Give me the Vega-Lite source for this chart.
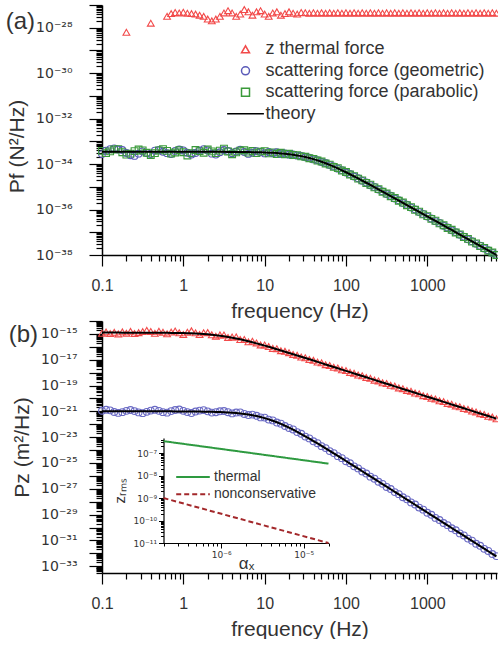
{
"$schema": "https://vega.github.io/schema/vega-lite/v6.json",
"background": "white",
"padding": {"left": 5, "top": -2, "right": 0, "bottom": 0},
"spacing": -7,
"config": {
  "font": "Liberation Sans",
  "view": {"stroke": null},
  "axis": {"grid": false, "domainColor": "#000", "tickColor": "#000", "labelColor": "#333", "titleColor": "#333", "titleFontWeight": "normal", "labelOverlap": false, "labelFlush": false, "labelBound": false}
},
"resolve": {
  "scale": {"x": "independent", "y": "independent", "color": "independent", "shape": "independent", "strokeDash": "independent"},
  "legend": {"color": "independent", "shape": "independent", "strokeDash": "independent"}
},
"datasets": {
"d": [
{"f":0.1,"ag":2.75e-34,"ap":3.80e-34,"at":3.47e-34,"bz":1.12e-15,"bs":1.12e-21,"b1":1.26e-15,"b2":1.0e-21},
{"f":0.1122,"ag":3.89e-34,"ap":3.02e-34,"at":3.47e-34,"bz":1.41e-15,"bs":1.32e-21,"b1":1.26e-15,"b2":1.0e-21},
{"f":0.1259,"ag":4.57e-34,"ap":3.63e-34,"at":3.47e-34,"bz":1.05e-15,"bs":1.20e-21,"b1":1.26e-15,"b2":1.0e-21},
{"f":0.1413,"ag":4.90e-34,"ap":4.37e-34,"at":3.47e-34,"bz":1.32e-15,"bs":8.91e-22,"b1":1.26e-15,"b2":1.0e-21},
{"f":0.1585,"ag":4.37e-34,"ap":4.57e-34,"at":3.47e-34,"bz":1.00e-15,"bs":7.59e-22,"b1":1.26e-15,"b2":1.0e-21},
{"f":0.1778,"ag":4.17e-34,"ap":3.31e-34,"at":3.47e-34,"bz":1.44e-15,"bs":8.71e-22,"b1":1.25e-15,"b2":1.0e-21},
{"f":0.1995,"azt":6.31e-29,"ag":3.09e-34,"ap":2.63e-34,"at":3.47e-34,"bz":1.14e-15,"bs":1.10e-21,"b1":1.25e-15,"b2":1.0e-21},
{"f":0.2239,"ag":2.45e-34,"ap":2.88e-34,"at":3.47e-34,"bz":1.57e-15,"bs":1.26e-21,"b1":1.25e-15,"b2":1.0e-21},
{"f":0.2512,"ag":2.29e-34,"ap":3.72e-34,"at":3.47e-34,"bz":1.09e-15,"bs":1.05e-21,"b1":1.25e-15,"b2":1.0e-21},
{"f":0.2818,"ag":2.88e-34,"ap":4.37e-34,"at":3.47e-34,"bz":1.25e-15,"bs":8.32e-22,"b1":1.25e-15,"b2":1.0e-21},
{"f":0.3162,"ag":3.63e-34,"ap":3.98e-34,"at":3.47e-34,"bz":1.50e-15,"bs":7.24e-22,"b1":1.25e-15,"b2":1.0e-21},
{"f":0.3548,"ag":3.09e-34,"ap":3.16e-34,"at":3.47e-34,"bz":1.88e-15,"bs":9.12e-22,"b1":1.24e-15,"b2":1.0e-21},
{"f":0.3981,"azt":1.58e-28,"ag":2.75e-34,"ap":2.51e-34,"at":3.47e-34,"bz":1.56e-15,"bs":1.15e-21,"b1":1.24e-15,"b2":1.0e-21},
{"f":0.4467,"ag":3.89e-34,"ap":3.02e-34,"at":3.47e-34,"bz":1.10e-15,"bs":1.32e-21,"b1":1.24e-15,"b2":1.0e-21},
{"f":0.5012,"ag":4.17e-34,"ap":3.98e-34,"at":3.47e-34,"bz":1.62e-15,"bs":1.10e-21,"b1":1.23e-15,"b2":1.0e-21},
{"f":0.5623,"ag":3.47e-34,"ap":4.57e-34,"at":3.47e-34,"bz":1.34e-15,"bs":8.71e-22,"b1":1.22e-15,"b2":1.0e-21},
{"f":0.631,"azt":3.16e-28,"ag":3.02e-34,"ap":3.80e-34,"at":3.47e-34,"bz":1.01e-15,"bs":7.94e-22,"b1":1.21e-15,"b2":1.0e-21},
{"f":0.7079,"azt":4.17e-28,"ag":2.75e-34,"ap":2.88e-34,"at":3.47e-34,"bz":1.38e-15,"bs":1.05e-21,"b1":1.20e-15,"b2":1.0e-21},
{"f":0.7943,"azt":4.68e-28,"ag":3.80e-34,"ap":3.24e-34,"at":3.47e-34,"bz":1.68e-15,"bs":1.26e-21,"b1":1.19e-15,"b2":9.9e-22},
{"f":0.8913,"azt":4.47e-28,"ag":4.37e-34,"ap":4.07e-34,"at":3.47e-34,"bz":1.22e-15,"bs":1.38e-21,"b1":1.17e-15,"b2":9.9e-22},
{"f":1,"azt":4.79e-28,"ag":3.98e-34,"ap":3.31e-34,"at":3.47e-34,"bz":9.13e-16,"bs":1.10e-21,"b1":1.15e-15,"b2":9.84e-22},
{"f":1.122,"azt":4.37e-28,"ag":3.16e-34,"ap":2.40e-34,"at":3.47e-34,"bz":1.36e-15,"bs":8.72e-22,"b1":1.13e-15,"b2":9.79e-22},
{"f":1.259,"azt":4.17e-28,"ag":2.63e-34,"ap":3.02e-34,"at":3.47e-34,"bz":1.74e-15,"bs":7.39e-22,"b1":1.10e-15,"b2":9.74e-22},
{"f":1.413,"azt":3.98e-28,"ag":3.09e-34,"ap":4.17e-34,"at":3.47e-34,"bz":1.20e-15,"bs":9.68e-22,"b1":1.07e-15,"b2":9.68e-22},
{"f":1.585,"azt":3.55e-28,"ag":3.89e-34,"ap":3.72e-34,"at":3.47e-34,"bz":8.88e-16,"bs":1.15e-21,"b1":1.02e-15,"b2":9.60e-22},
{"f":1.778,"azt":3.16e-28,"ag":4.57e-34,"ap":3.16e-34,"at":3.47e-34,"bz":1.23e-15,"bs":1.25e-21,"b1":9.76e-16,"b2":9.50e-22},
{"f":1.995,"azt":2.40e-28,"ag":3.98e-34,"ap":4.37e-34,"at":3.47e-34,"bz":1.27e-15,"bs":1.00e-21,"b1":9.22e-16,"b2":9.37e-22},
{"f":2.239,"azt":2.0e-28,"ag":2.88e-34,"ap":3.63e-34,"at":3.47e-34,"bz":8.62e-16,"bs":8.03e-22,"b1":8.62e-16,"b2":9.22e-22},
{"f":2.512,"azt":2.40e-28,"ag":2.63e-34,"ap":3.02e-34,"at":3.47e-34,"bz":6.63e-16,"bs":8.62e-22,"b1":7.97e-16,"b2":9.03e-22},
{"f":2.818,"azt":3.16e-28,"ag":3.31e-34,"ap":3.89e-34,"at":3.47e-34,"bz":8.36e-16,"bs":1.01e-21,"b1":7.28e-16,"b2":8.80e-22},
{"f":3.162,"azt":4.47e-28,"ag":4.17e-34,"ap":4.79e-34,"at":3.47e-34,"bz":8.26e-16,"bs":1.07e-21,"b1":6.56e-16,"b2":8.53e-22},
{"f":3.548,"azt":5.62e-28,"ag":3.77e-34,"ap":3.60e-34,"at":3.44e-34,"bz":5.33e-16,"bs":8.59e-22,"b1":5.84e-16,"b2":8.20e-22},
{"f":3.981,"azt":4.47e-28,"ag":2.99e-34,"ap":2.72e-34,"at":3.43e-34,"bz":5.76e-16,"bs":6.97e-22,"b1":5.13e-16,"b2":7.82e-22},
{"f":4.467,"azt":3.16e-28,"ag":3.58e-34,"ap":3.27e-34,"at":3.42e-34,"bz":5.87e-16,"bs":8.08e-22,"b1":4.45e-16,"b2":7.37e-22},
{"f":5.012,"azt":3.98e-28,"ag":4.29e-34,"ap":3.91e-34,"at":3.41e-34,"bz":3.64e-16,"bs":8.25e-22,"b1":3.81e-16,"b2":6.86e-22},
{"f":5.623,"azt":6.31e-28,"ag":3.39e-34,"ap":4.07e-34,"at":3.39e-34,"bz":3.71e-16,"bs":6.29e-22,"b1":3.23e-16,"b2":6.29e-22},
{"f":6.31,"azt":5.01e-28,"ag":2.80e-34,"ap":3.22e-34,"at":3.37e-34,"bz":2.41e-16,"bs":5.16e-22,"b1":2.70e-16,"b2":5.66e-22},
{"f":7.079,"azt":3.55e-28,"ag":3.13e-34,"ap":3.76e-34,"at":3.35e-34,"bz":2.70e-16,"bs":5.61e-22,"b1":2.25e-16,"b2":5.00e-22},
{"f":7.943,"azt":5.01e-28,"ag":3.73e-34,"ap":3.03e-34,"at":3.32e-34,"bz":1.98e-16,"bs":4.52e-22,"b1":1.85e-16,"b2":4.32e-22},
{"f":8.913,"azt":5.62e-28,"ag":3.44e-34,"ap":3.53e-34,"at":3.29e-34,"bz":1.39e-16,"bs":3.40e-22,"b1":1.52e-16,"b2":3.64e-22},
{"f":10,"azt":3.98e-28,"ag":2.95e-34,"ap":3.72e-34,"at":3.24e-34,"bz":1.39e-16,"bs":3.29e-22,"b1":1.24e-16,"b2":3.00e-22},
{"f":11.22,"azt":3.16e-28,"ag":3.42e-34,"ap":2.98e-34,"at":3.19e-34,"bz":1.05e-16,"bs":2.29e-22,"b1":1.00e-16,"b2":2.40e-22},
{"f":12.59,"azt":4.47e-28,"ag":2.98e-34,"ap":3.27e-34,"at":3.12e-34,"bz":7.55e-17,"bs":2.00e-22,"b1":8.09e-17,"b2":1.87e-22},
{"f":14.13,"azt":5.01e-28,"ag":3.34e-34,"ap":2.78e-34,"at":3.05e-34,"bz":7.14e-17,"bs":1.36e-22,"b1":6.51e-17,"b2":1.42e-22},
{"f":15.85,"azt":3.55e-28,"ag":2.75e-34,"ap":3.16e-34,"at":2.95e-34,"bz":4.99e-17,"bs":1.11e-22,"b1":5.23e-17,"b2":1.06e-22},
{"f":17.78,"azt":4.17e-28,"ag":2.97e-34,"ap":2.71e-34,"at":2.84e-34,"bz":4.49e-17,"bs":7.32e-23,"b1":4.19e-17,"b2":7.66e-23},
{"f":19.95,"azt":5.01e-28,"ag":2.60e-34,"ap":2.85e-34,"at":2.72e-34,"bz":3.51e-17,"bs":5.19e-23,"b1":3.35e-17,"b2":5.43e-23},
{"f":22.39,"azt":4.37e-28,"ag":2.63e-34,"ap":2.51e-34,"at":2.57e-34,"bz":2.56e-17,"bs":3.96e-23,"b1":2.68e-17,"b2":3.78e-23},
{"f":25.12,"azt":3.98e-28,"ag":2.35e-34,"ap":2.47e-34,"at":2.41e-34,"bz":2.24e-17,"bs":2.47e-23,"b1":2.14e-17,"b2":2.59e-23},
{"f":28.18,"azt":4.68e-28,"ag":2.29e-34,"ap":2.19e-34,"at":2.24e-34,"bz":1.62e-17,"bs":1.83e-23,"b1":1.70e-17,"b2":1.75e-23},
{"f":31.62,"azt":4.57e-28,"ag":2.00e-34,"ap":2.10e-34,"at":2.05e-34,"bz":1.42e-17,"bs":1.11e-23,"b1":1.36e-17,"b2":1.16e-23},
{"f":35.48,"azt":4.37e-28,"ag":1.89e-34,"ap":1.81e-34,"at":1.85e-34,"bz":1.03e-17,"bs":8.05e-24,"b1":1.08e-17,"b2":7.69e-24},
{"f":39.81,"azt":4.57e-28,"ag":1.61e-34,"ap":1.69e-34,"at":1.65e-34,"bz":8.99e-18,"bs":4.80e-24,"b1":8.59e-18,"b2":5.03e-24},
{"f":44.67,"azt":4.37e-28,"ag":1.49e-34,"ap":1.43e-34,"at":1.46e-34,"bz":6.53e-18,"bs":3.42e-24,"b1":6.84e-18,"b2":3.27e-24},
{"f":50.12,"azt":4.57e-28,"ag":1.24e-34,"ap":1.30e-34,"at":1.27e-34,"bz":5.70e-18,"bs":2.02e-24,"b1":5.44e-18,"b2":2.11e-24},
{"f":56.23,"azt":4.37e-28,"ag":1.12e-34,"ap":1.06e-34,"at":1.09e-34,"bz":4.13e-18,"bs":1.42e-24,"b1":4.32e-18,"b2":1.36e-24},
{"f":63.1,"azt":4.57e-28,"ag":9.02e-35,"ap":9.44e-35,"at":9.23e-35,"bz":3.59e-18,"bs":8.31e-25,"b1":3.43e-18,"b2":8.70e-25},
{"f":70.79,"azt":4.37e-28,"ag":7.93e-35,"ap":7.57e-35,"at":7.75e-35,"bz":2.61e-18,"bs":5.82e-25,"b1":2.73e-18,"b2":5.56e-25},
{"f":79.43,"azt":4.57e-28,"ag":6.31e-35,"ap":6.61e-35,"at":6.46e-35,"bz":2.27e-18,"bs":3.38e-25,"b1":2.17e-18,"b2":3.54e-25},
{"f":89.13,"azt":4.37e-28,"ag":5.45e-35,"ap":5.21e-35,"at":5.33e-35,"bz":1.64e-18,"bs":2.36e-25,"b1":1.72e-18,"b2":2.25e-25},
{"f":100,"azt":4.57e-28,"ag":4.28e-35,"ap":4.48e-35,"at":4.38e-35,"bz":1.43e-18,"bs":1.37e-25,"b1":1.37e-18,"b2":1.43e-25},
{"f":112.2,"azt":4.37e-28,"ag":3.65e-35,"ap":3.49e-35,"at":3.57e-35,"bz":1.04e-18,"bs":9.50e-26,"b1":1.09e-18,"b2":9.07e-26},
{"f":125.9,"azt":4.57e-28,"ag":2.83e-35,"ap":2.97e-35,"at":2.90e-35,"bz":9.05e-19,"bs":5.48e-26,"b1":8.64e-19,"b2":5.74e-26},
{"f":141.3,"azt":4.37e-28,"ag":2.39e-35,"ap":2.29e-35,"at":2.34e-35,"bz":6.55e-19,"bs":3.80e-26,"b1":6.86e-19,"b2":3.63e-26},
{"f":158.5,"azt":4.57e-28,"ag":1.84e-35,"ap":1.92e-35,"at":1.88e-35,"bz":5.71e-19,"bs":2.20e-26,"b1":5.45e-19,"b2":2.30e-26},
{"f":177.8,"azt":4.37e-28,"ag":1.54e-35,"ap":1.48e-35,"at":1.51e-35,"bz":4.14e-19,"bs":1.52e-26,"b1":4.33e-19,"b2":1.45e-26},
{"f":199.5,"azt":4.57e-28,"ag":1.18e-35,"ap":1.24e-35,"at":1.21e-35,"bz":3.60e-19,"bs":8.77e-27,"b1":3.44e-19,"b2":9.18e-27},
{"f":223.9,"azt":4.37e-28,"ag":9.93e-36,"ap":9.49e-36,"at":9.71e-36,"bz":2.61e-19,"bs":6.07e-27,"b1":2.73e-19,"b2":5.80e-27},
{"f":251.2,"azt":4.57e-28,"ag":7.58e-36,"ap":7.94e-36,"at":7.76e-36,"bz":2.27e-19,"bs":3.50e-27,"b1":2.17e-19,"b2":3.66e-27},
{"f":281.8,"azt":4.37e-28,"ag":6.33e-36,"ap":6.05e-36,"at":6.19e-36,"bz":1.64e-19,"bs":2.42e-27,"b1":1.72e-19,"b2":2.31e-27},
{"f":316.2,"azt":4.57e-28,"ag":4.83e-36,"ap":5.05e-36,"at":4.94e-36,"bz":1.43e-19,"bs":1.39e-27,"b1":1.37e-19,"b2":1.46e-27},
{"f":354.8,"azt":4.37e-28,"ag":4.02e-36,"ap":3.84e-36,"at":3.93e-36,"bz":1.04e-19,"bs":9.66e-28,"b1":1.09e-19,"b2":9.23e-28},
{"f":398.1,"azt":4.57e-28,"ag":3.06e-36,"ap":3.20e-36,"at":3.13e-36,"bz":9.05e-20,"bs":5.56e-28,"b1":8.64e-20,"b2":5.82e-28},
{"f":446.7,"azt":4.37e-28,"ag":2.55e-36,"ap":2.43e-36,"at":2.49e-36,"bz":6.55e-20,"bs":3.84e-28,"b1":6.86e-20,"b2":3.67e-28},
{"f":501.2,"azt":4.57e-28,"ag":1.93e-36,"ap":2.03e-36,"at":1.98e-36,"bz":5.71e-20,"bs":2.22e-28,"b1":5.45e-20,"b2":2.32e-28},
{"f":562.3,"azt":4.37e-28,"ag":1.62e-36,"ap":1.54e-36,"at":1.58e-36,"bz":4.14e-20,"bs":1.53e-28,"b1":4.33e-20,"b2":1.46e-28},
{"f":631,"azt":4.57e-28,"ag":1.22e-36,"ap":1.28e-36,"at":1.25e-36,"bz":3.60e-20,"bs":8.81e-29,"b1":3.44e-20,"b2":9.23e-29},
{"f":707.9,"azt":4.37e-28,"ag":1.02e-36,"ap":9.73e-37,"at":9.96e-37,"bz":2.61e-20,"bs":6.09e-29,"b1":2.73e-20,"b2":5.82e-29},
{"f":794.3,"azt":4.57e-28,"ag":7.73e-37,"ap":8.09e-37,"at":7.91e-37,"bz":2.27e-20,"bs":3.50e-29,"b1":2.17e-20,"b2":3.67e-29},
{"f":891.3,"azt":4.37e-28,"ag":6.43e-37,"ap":6.15e-37,"at":6.29e-37,"bz":1.64e-20,"bs":2.43e-29,"b1":1.72e-20,"b2":2.32e-29},
{"f":1000,"azt":4.57e-28,"ag":4.89e-37,"ap":5.12e-37,"at":5.00e-37,"bz":1.43e-20,"bs":1.39e-29,"b1":1.37e-20,"b2":1.46e-29},
{"f":1122,"azt":4.37e-28,"ag":4.06e-37,"ap":3.88e-37,"at":3.97e-37,"bz":1.04e-20,"bs":9.66e-30,"b1":1.09e-20,"b2":9.23e-30},
{"f":1259,"azt":4.57e-28,"ag":3.09e-37,"ap":3.23e-37,"at":3.16e-37,"bz":9.05e-21,"bs":5.56e-30,"b1":8.64e-21,"b2":5.82e-30},
{"f":1413,"azt":4.37e-28,"ag":2.57e-37,"ap":2.45e-37,"at":2.51e-37,"bz":6.55e-21,"bs":3.84e-30,"b1":6.86e-21,"b2":3.67e-30},
{"f":1585,"azt":4.57e-28,"ag":1.94e-37,"ap":2.04e-37,"at":1.99e-37,"bz":5.71e-21,"bs":2.22e-30,"b1":5.45e-21,"b2":2.32e-30},
{"f":1778,"azt":4.37e-28,"ag":1.62e-37,"ap":1.54e-37,"at":1.58e-37,"bz":4.14e-21,"bs":1.53e-30,"b1":4.33e-21,"b2":1.46e-30},
{"f":1995,"azt":4.57e-28,"ag":1.23e-37,"ap":1.29e-37,"at":1.26e-37,"bz":3.60e-21,"bs":8.81e-31,"b1":3.44e-21,"b2":9.23e-31},
{"f":2239,"azt":4.37e-28,"ag":1.02e-37,"ap":9.75e-38,"at":9.98e-38,"bz":2.61e-21,"bs":6.09e-31,"b1":2.73e-21,"b2":5.82e-31},
{"f":2512,"azt":4.57e-28,"ag":7.75e-38,"ap":8.11e-38,"at":7.93e-38,"bz":2.27e-21,"bs":3.50e-31,"b1":2.17e-21,"b2":3.67e-31},
{"f":2818,"azt":4.37e-28,"ag":6.44e-38,"ap":6.16e-38,"at":6.30e-38,"bz":1.64e-21,"bs":2.43e-31,"b1":1.72e-21,"b2":2.32e-31},
{"f":3162,"azt":4.57e-28,"ag":4.89e-38,"ap":5.12e-38,"at":5.00e-38,"bz":1.43e-21,"bs":1.39e-31,"b1":1.37e-21,"b2":1.46e-31},
{"f":3548,"azt":4.37e-28,"ag":4.06e-38,"ap":3.88e-38,"at":3.97e-38,"bz":1.04e-21,"bs":9.66e-32,"b1":1.09e-21,"b2":9.23e-32},
{"f":3981,"azt":4.57e-28,"ag":3.09e-38,"ap":3.23e-38,"at":3.16e-38,"bz":9.05e-22,"bs":5.56e-32,"b1":8.64e-22,"b2":5.82e-32},
{"f":4467,"azt":4.37e-28,"ag":2.57e-38,"ap":2.45e-38,"at":2.51e-38,"bz":6.55e-22,"bs":3.84e-32,"b1":6.86e-22,"b2":3.67e-32},
{"f":5012,"azt":4.57e-28,"ag":1.94e-38,"ap":2.04e-38,"at":1.99e-38,"bz":5.71e-22,"bs":2.22e-32,"b1":5.45e-22,"b2":2.32e-32},
{"f":5623,"azt":4.37e-28,"ag":1.62e-38,"ap":1.54e-38,"at":1.58e-38,"bz":4.14e-22,"bs":1.53e-32,"b1":4.33e-22,"b2":1.46e-32},
{"f":6310,"azt":4.57e-28,"ag":1.23e-38,"ap":1.29e-38,"at":1.26e-38,"bz":3.60e-22,"bs":8.81e-33,"b1":3.44e-22,"b2":9.23e-33},
{"f":7079,"azt":4.37e-28,"ag":1.02e-38,"ap":1.0e-38,"at":1.0e-38,"bz":2.61e-22,"bs":6.09e-33,"b1":2.73e-22,"b2":5.82e-33}
],
"ins": [
{"ax":2e-7,"ith":3.4e-7,"inc":1e-9},
{"ax":2e-6,"ith":1.08e-7,"inc":1e-10},
{"ax":2e-5,"ith":3.4e-8,"inc":1e-11}
]
},
"vconcat": [
{
  "width": 395,
  "height": 250,
  "encoding": {
    "x": {"type": "quantitative", "scale": {"type": "log", "domain": [0.1, 7200]},
      "axis": {"title": "frequency (Hz)", "titleFontSize": 21, "titlePadding": 7, "labelFontSize": 16, "labelPadding": 11, "tickCount": 30, "tickWidth": 1.2, "domainWidth": 1.5,
        "tickSize": {"condition": {"test": "abs(log(datum.value)/LN10 - round(log(datum.value)/LN10)) < 1e-6", "value": 11}, "value": 6},
        "labelExpr": "abs(log(datum.value)/LN10 - round(log(datum.value)/LN10)) < 1e-6 ? format(datum.value, '~g') : ''"}},
    "y": {"type": "quantitative", "scale": {"type": "log", "domain": [1e-38, 1e-27]},
      "axis": {"title": "Pf  (N²/Hz)", "titleFontSize": 21, "titlePadding": 8, "titleY": 141, "labelFont": "DejaVu Sans", "labelFontSize": 14, "labelPadding": 17, "tickCount": 30, "tickWidth": 1.2, "domainWidth": 1.5,
        "tickSize": {"condition": {"test": "abs(log(datum.value)/LN10 - round(log(datum.value)/LN10)) < 1e-6", "value": 13}, "value": 6},
        "labelExpr": "(abs(log(datum.value)/LN10 - round(log(datum.value)/LN10)) < 1e-6 && round(log(datum.value)/LN10) % 2 == 0) ? '10⁻' + (-round(log(datum.value)/LN10) >= 10 ? ['⁰','¹','²','³','⁴','⁵','⁶','⁷','⁸','⁹'][floor(-round(log(datum.value)/LN10)/10)] : '') + ['⁰','¹','²','³','⁴','⁵','⁶','⁷','⁸','⁹'][(-round(log(datum.value)/LN10)) % 10] : ''"}}
  },
  "layer": [
    {
      "data": {"name": "d"},
      "transform": [{"fold": ["azt", "ag", "ap"], "as": ["series", "val"]}, {"filter": "isValid(datum.val)"}],
      "mark": {"type": "point", "filled": false, "size": 46, "strokeWidth": 1.1, "opacity": 1},
      "encoding": {
        "x": {"field": "f", "type": "quantitative"},
        "y": {"field": "val", "type": "quantitative"},
        "color": {"field": "series", "type": "nominal",
          "scale": {"domain": ["azt", "ag", "ap", "theory"], "range": ["#f24a4a", "#5a5ab8", "#3a9a3a", "#000000"]},
          "legend": {"orient": "none", "legendX": 134.5, "legendY": 35.3, "title": null, "labelFontSize": 18, "labelColor": "#333", "labelLimit": 400, "symbolSize": 64, "symbolStrokeWidth": 1.5, "labelOffset": 11, "rowPadding": 3.5, "padding": 0,
            "labelExpr": "datum.label == 'azt' ? 'z thermal force' : datum.label == 'ag' ? 'scattering force (geometric)' : datum.label == 'ap' ? 'scattering force (parabolic)' : 'theory'"}},
        "shape": {"field": "series", "type": "nominal",
          "scale": {"domain": ["azt", "ag", "ap", "theory"], "range": ["triangle-up", "circle", "square", "M-4.6,0H4.6"]},
          "legend": {"orient": "none", "legendX": 134.5, "legendY": 35.3, "title": null, "labelFontSize": 18, "labelColor": "#333", "labelLimit": 400, "symbolSize": 64, "symbolStrokeWidth": 1.5, "labelOffset": 11, "rowPadding": 3.5, "padding": 0,
            "labelExpr": "datum.label == 'azt' ? 'z thermal force' : datum.label == 'ag' ? 'scattering force (geometric)' : datum.label == 'ap' ? 'scattering force (parabolic)' : 'theory'"}}
      }
    },
    {
      "data": {"name": "d"},
      "mark": {"type": "line", "color": "#000", "strokeWidth": 2},
      "encoding": {"x": {"field": "f", "type": "quantitative"}, "y": {"field": "at", "type": "quantitative"}}
    },
    {
      "data": {"values": [{}]},
      "mark": {"type": "text", "align": "left", "baseline": "middle", "fontSize": 24, "color": "#333"},
      "encoding": {"x": {"datum": 0.00655}, "y": {"datum": 1.78e-28}, "text": {"value": "(a)"}}
    }
  ]
},
{
  "width": 395,
  "height": 252,
  "resolve": {"scale": {"x": "independent", "y": "independent"}, "axis": {"x": "independent", "y": "independent"}},
  "layer": [
    {
      "encoding": {
        "x": {"type": "quantitative", "scale": {"type": "log", "domain": [0.1, 7200]},
          "axis": {"title": "frequency (Hz)", "titleFontSize": 21, "titlePadding": 7, "labelFontSize": 16, "labelPadding": 11, "tickCount": 30, "tickWidth": 1.2, "domainWidth": 1.5,
            "tickSize": {"condition": {"test": "abs(log(datum.value)/LN10 - round(log(datum.value)/LN10)) < 1e-6", "value": 11}, "value": 6},
            "labelExpr": "abs(log(datum.value)/LN10 - round(log(datum.value)/LN10)) < 1e-6 ? format(datum.value, '~g') : ''"}},
        "y": {"type": "quantitative", "scale": {"type": "log", "domain": [3e-34, 1e-14]},
          "axis": {"title": "Pz  (m²/Hz)", "titleFontSize": 21, "titlePadding": 8, "labelFont": "DejaVu Sans", "labelFontSize": 14, "labelPadding": 12, "tickCount": 40, "tickWidth": 1.2, "domainWidth": 1.5,
            "tickSize": {"condition": {"test": "abs(log(datum.value)/LN10 - round(log(datum.value)/LN10)) < 1e-6", "value": 13}, "value": 6},
            "labelExpr": "(abs(log(datum.value)/LN10 - round(log(datum.value)/LN10)) < 1e-6 && round(log(datum.value)/LN10) % 2 != 0) ? '10⁻' + (-round(log(datum.value)/LN10) >= 10 ? ['⁰','¹','²','³','⁴','⁵','⁶','⁷','⁸','⁹'][floor(-round(log(datum.value)/LN10)/10)] : '') + ['⁰','¹','²','³','⁴','⁵','⁶','⁷','⁸','⁹'][(-round(log(datum.value)/LN10)) % 10] : ''"}}
      },
      "layer": [
        {
          "data": {"name": "d"},
          "mark": {"type": "point", "shape": "triangle-up", "filled": false, "size": 46, "strokeWidth": 1.1, "opacity": 1, "color": "#f24a4a"},
          "encoding": {"x": {"field": "f", "type": "quantitative"}, "y": {"field": "bz", "type": "quantitative"}}
        },
        {
          "data": {"name": "d"},
          "mark": {"type": "point", "shape": "circle", "filled": false, "size": 46, "strokeWidth": 1.1, "opacity": 1, "color": "#6a6ac4"},
          "encoding": {"x": {"field": "f", "type": "quantitative"}, "y": {"field": "bs", "type": "quantitative"}}
        },
        {
          "data": {"name": "d"},
          "mark": {"type": "line", "color": "#000", "strokeWidth": 2},
          "encoding": {"x": {"field": "f", "type": "quantitative"}, "y": {"field": "b1", "type": "quantitative"}}
        },
        {
          "data": {"name": "d"},
          "mark": {"type": "line", "color": "#000", "strokeWidth": 2},
          "encoding": {"x": {"field": "f", "type": "quantitative"}, "y": {"field": "b2", "type": "quantitative"}}
        },
        {
          "data": {"values": [{}]},
          "mark": {"type": "text", "align": "left", "baseline": "middle", "fontSize": 24, "color": "#333"},
          "encoding": {"x": {"datum": 0.00713}, "y": {"datum": 8.3e-16}, "text": {"value": "(b)"}}
        }
      ]
    },
    {
      "data": {"name": "ins"},
      "transform": [{"fold": ["ith", "inc"], "as": ["kind", "v"]}],
      "mark": {"type": "line", "strokeWidth": 2},
      "encoding": {
        "x": {"field": "ax", "type": "quantitative", "scale": {"type": "log", "domain": [2e-7, 2e-5], "range": [61.5, 226.5]},
          "axis": {"orient": "bottom", "offset": -30, "title": "αₓ", "titleFontSize": 17, "titlePadding": -4, "labelFont": "DejaVu Sans", "labelFontSize": 9, "labelPadding": 2, "tickCount": 20, "tickWidth": 1, "domainWidth": 1.2,
            "tickSize": {"condition": {"test": "abs(log(datum.value)/LN10 - round(log(datum.value)/LN10)) < 1e-6", "value": 5}, "value": 3},
            "labelExpr": "abs(log(datum.value)/LN10 - round(log(datum.value)/LN10)) < 1e-6 ? '10⁻' + (-round(log(datum.value)/LN10) >= 10 ? ['⁰','¹','²','³','⁴','⁵','⁶','⁷','⁸','⁹'][floor(-round(log(datum.value)/LN10)/10)] : '') + ['⁰','¹','²','³','⁴','⁵','⁶','⁷','⁸','⁹'][(-round(log(datum.value)/LN10)) % 10] : ''"}},
        "y": {"field": "v", "type": "quantitative", "scale": {"type": "log", "domain": [1e-11, 4.7e-7], "range": [222, 117]},
          "axis": {"orient": "left", "offset": -61.5, "title": "zᵣₘₛ", "titleFontSize": 15, "titlePadding": 6, "labelFont": "DejaVu Sans", "labelFontSize": 9, "labelPadding": 2, "tickCount": 20, "tickWidth": 1, "domainWidth": 1.2,
            "tickSize": {"condition": {"test": "abs(log(datum.value)/LN10 - round(log(datum.value)/LN10)) < 1e-6", "value": 5}, "value": 3},
            "labelExpr": "abs(log(datum.value)/LN10 - round(log(datum.value)/LN10)) < 1e-6 ? '10⁻' + (-round(log(datum.value)/LN10) >= 10 ? ['⁰','¹','²','³','⁴','⁵','⁶','⁷','⁸','⁹'][floor(-round(log(datum.value)/LN10)/10)] : '') + ['⁰','¹','²','³','⁴','⁵','⁶','⁷','⁸','⁹'][(-round(log(datum.value)/LN10)) % 10] : ''"}},
        "color": {"field": "kind", "type": "nominal", "scale": {"domain": ["ith", "inc"], "range": ["#2e9a40", "#a3282b"]},
          "legend": {"orient": "none", "legendX": 84, "legendY": 149, "title": null, "labelFontSize": 14, "labelColor": "#333", "labelLimit": 300, "symbolSize": 64, "symbolStrokeWidth": 2, "symbolType": "M-4.2,0H4.2", "labelOffset": 14, "rowPadding": 3.3, "padding": 0,
            "labelExpr": "datum.label == 'ith' ? 'thermal' : 'nonconservative'"}},
        "strokeDash": {"field": "kind", "type": "nominal", "scale": {"domain": ["ith", "inc"], "range": [[1, 0], [5, 3]]},
          "legend": {"orient": "none", "legendX": 84, "legendY": 149, "title": null, "labelFontSize": 14, "labelColor": "#333", "labelLimit": 300, "symbolSize": 64, "symbolStrokeWidth": 2, "symbolType": "M-4.2,0H4.2", "labelOffset": 14, "rowPadding": 3.3, "padding": 0,
            "labelExpr": "datum.label == 'ith' ? 'thermal' : 'nonconservative'"}}
      }
    }
  ]
}
]
}
